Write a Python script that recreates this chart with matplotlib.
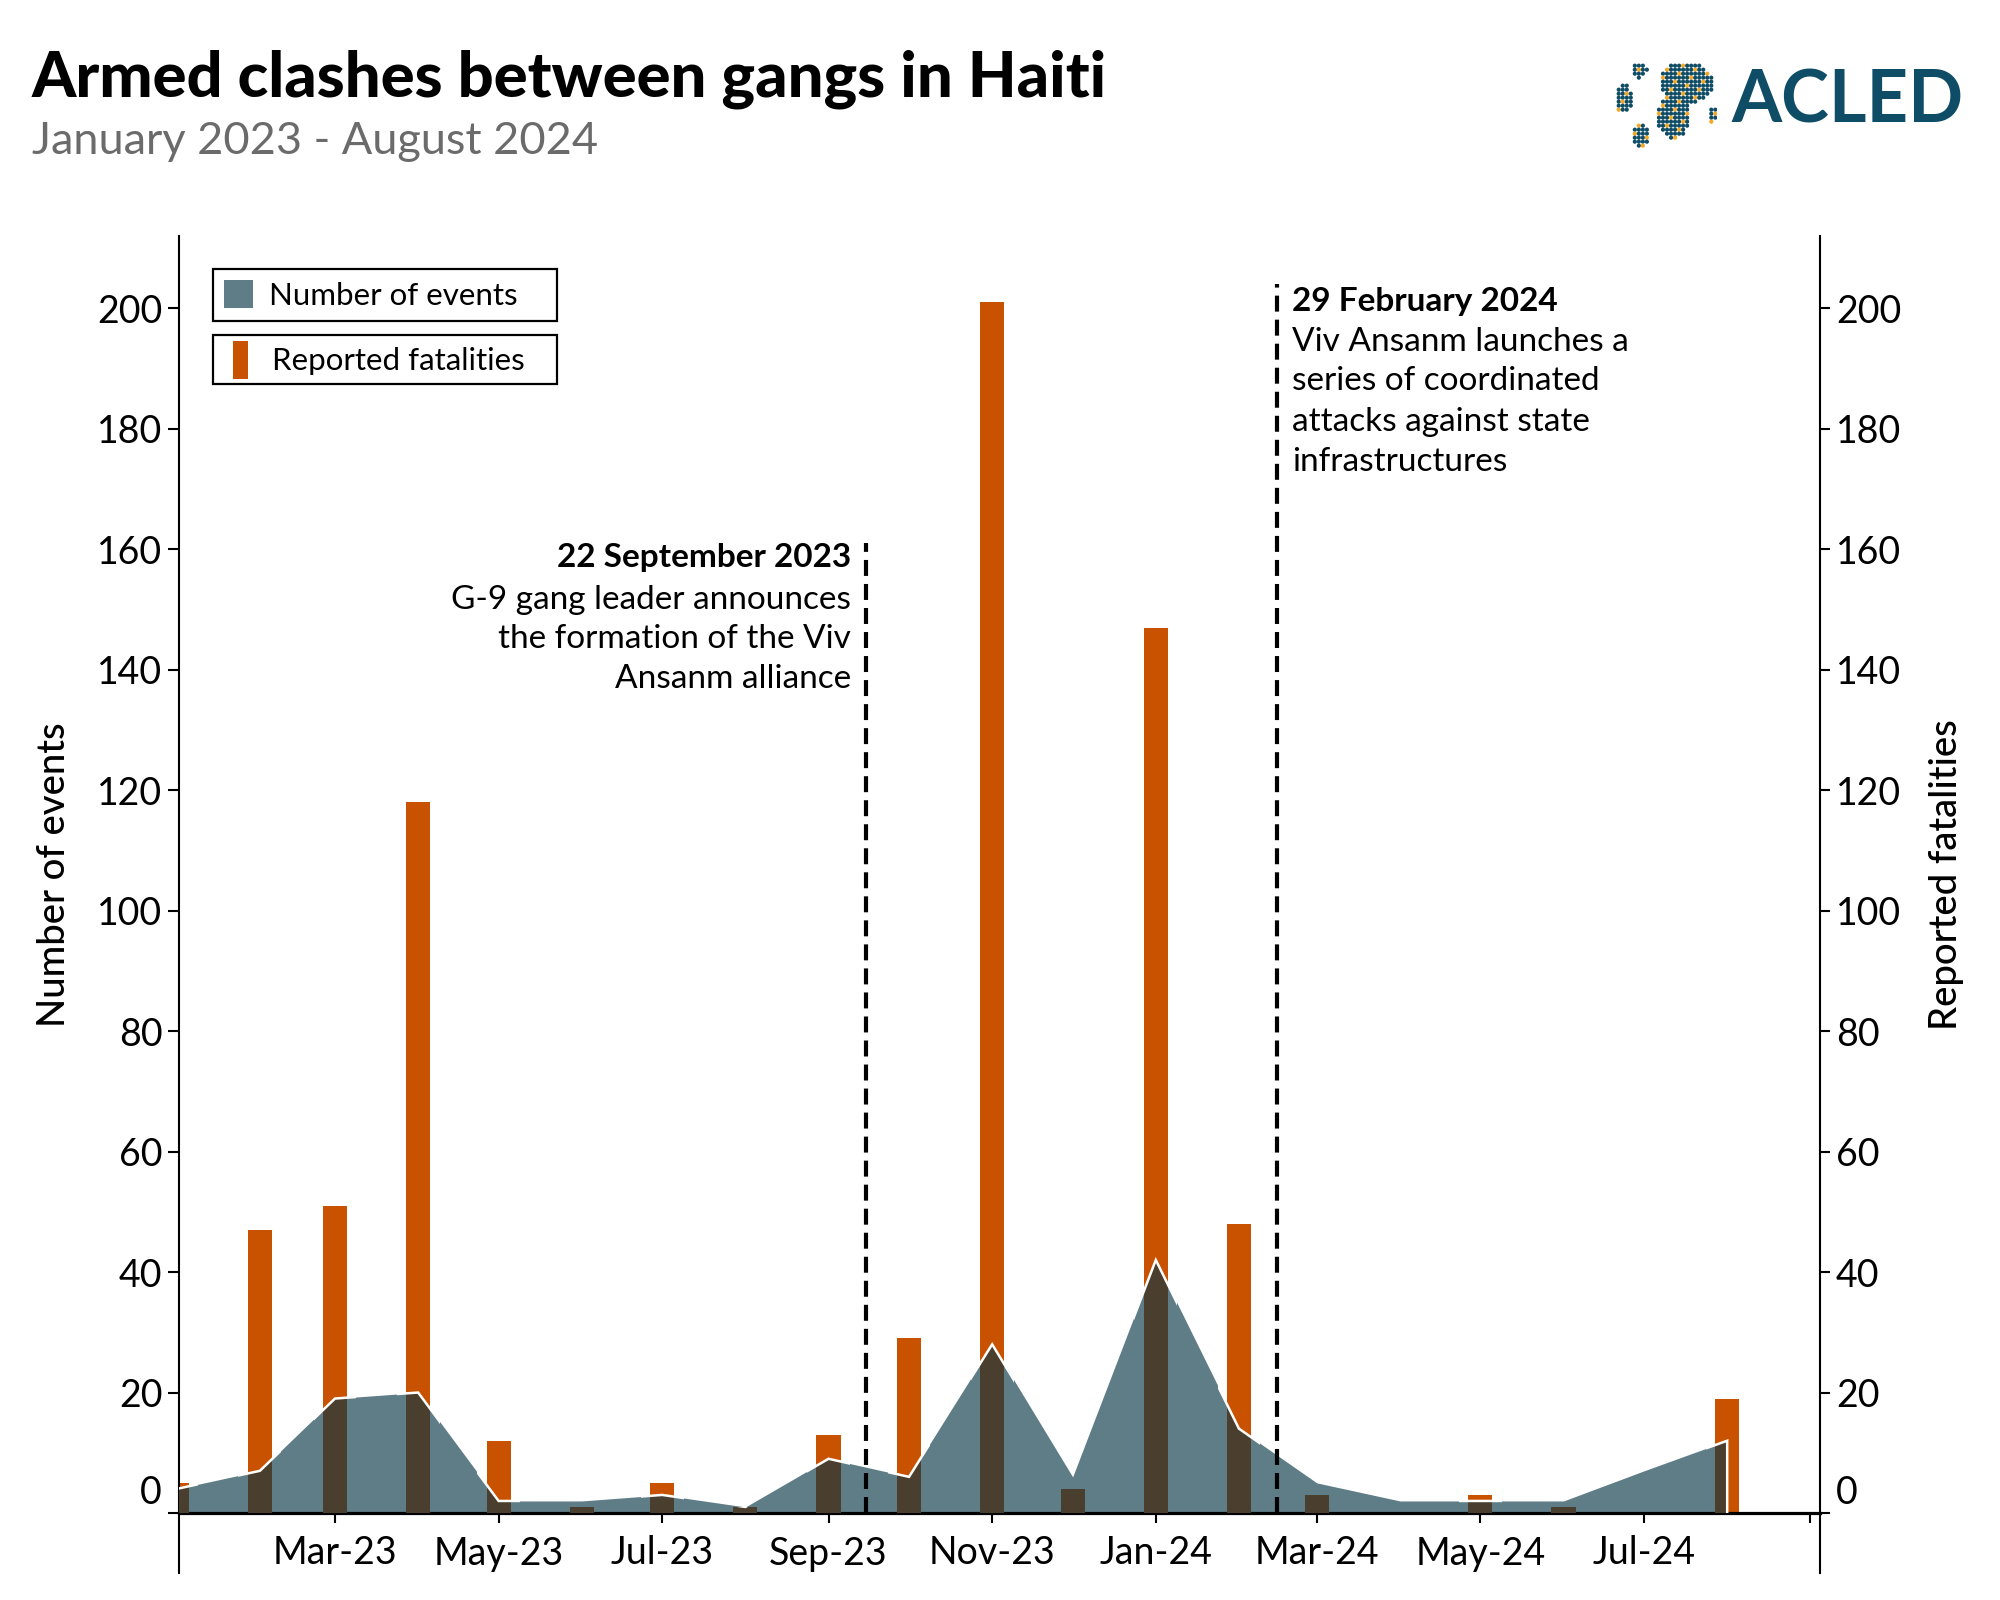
import matplotlib
matplotlib.use("Agg")
import matplotlib.pyplot as plt
import matplotlib.dates as mdates
from matplotlib.patches import Patch, Rectangle
from matplotlib.path import Path
from matplotlib.legend_handler import HandlerPatch
import numpy as np
import pandas as pd

# ---------------- data ----------------
months = pd.date_range("2023-01-01", "2024-08-01", freq="MS")
events = [4, 7, 19, 20, 2, 2, 3, 1, 9, 6, 28, 6, 42, 14, 5, 2, 2, 2, 7, 12]
fatalities = [5, 47, 51, 118, 12, 1, 5, 1, 13, 29, 201, 4, 147, 48, 3, 0, 3, 1, 0, 19]
tick_dates = pd.date_range("2023-03-01", "2024-09-01", freq="2MS")
tick_labels = ["Mar-23", "May-23", "Jul-23", "Sep-23", "Nov-23", "Jan-24",
               "Mar-24", "May-24", "Jul-24", ""]
y_ticks = list(range(0, 201, 20))
event_dates = ["2023-09-15", "2024-02-15"]
event_line_tops = [161, 204]

# ---------------- style ----------------
FONT = ["Lato", "DejaVu Sans"]
plt.rcParams["font.family"] = FONT
plt.rcParams["lines.scale_dashes"] = False
ORANGE = "#c85200"
AREA = "#5f7d87"
DARK = "#4a3f2e"
TICK_FS = 27

W, H = 2000, 1600
fig = plt.figure(figsize=(20, 16), dpi=100)

def fx(px):
    return px / W

def fy(py):
    return 1 - py / H

ax_left, ax_right, ax_top, ax_bot = 179, 1820, 236, 1513
ax = fig.add_axes([fx(ax_left), fy(ax_bot), (ax_right - ax_left) / W, (ax_bot - ax_top) / H])

x = mdates.date2num(months)
bw = 9  # days

# orange bars
ax.bar(x, fatalities, width=bw, color=ORANGE, zorder=1, linewidth=0)
# area
xa = np.append(x, x[-1])
ya = np.append(np.array(events, float), 0.0)
area = ax.fill_between(x, events, 0, color=AREA, linewidth=0, zorder=2)
area_path = area.get_paths()[0]
# dark overlap (bars clipped to the area)
dark = ax.bar(x, fatalities, width=bw, color=DARK, zorder=3, linewidth=0)
for r in dark:
    r.set_clip_path(area_path, ax.transData)
# white outline where it meets the bars
pad = 3.5
rects = []
for xi, fi in zip(x, fatalities):
    if fi > 0:
        x0, x1 = xi - bw / 2 - pad, xi + bw / 2 + pad
        rects.append(Path([(x0, 0), (x1, 0), (x1, fi), (x0, fi), (x0, 0)],
                          [Path.MOVETO, Path.LINETO, Path.LINETO, Path.LINETO, Path.CLOSEPOLY]))
clip = Path.make_compound_path(*rects)
wl, = ax.plot(xa, ya, color="white", lw=1.8, zorder=4, solid_joinstyle="miter")
wl.set_clip_path(clip, ax.transData)

# dashed event lines
for d, top in zip(event_dates, event_line_tops):
    xd = mdates.date2num(pd.Timestamp(d))
    ax.plot([xd, xd], [0, top], color="black", lw=3.0, dashes=(11.5, 5.8), zorder=6)

# axes limits / ticks
x_left = mdates.date2num(pd.Timestamp("2023-01-01")) + 0.86
x_right = mdates.date2num(pd.Timestamp("2024-09-04")) + 0.6
ax.set_xlim(x_left, x_right)
ax.set_ylim(0, 212)
ax.set_xticks(mdates.date2num(tick_dates))
ax.set_xticklabels(tick_labels)
ax.set_yticks(y_ticks)
ax.set_yticklabels([""] + [str(v) for v in y_ticks[1:]])
ax.tick_params(axis="x", length=7.2, width=1.5, pad=9, labelsize=TICK_FS, direction="out")
ax.tick_params(axis="y", length=8, width=1.5, pad=4, labelsize=TICK_FS, direction="out")
for s in ["top", "right"]:
    ax.spines[s].set_visible(False)
ax.spines["left"].set_linewidth(1.5)
ax.spines["bottom"].set_linewidth(2.3)
ax.set_ylabel("Number of events", fontsize=27.5, labelpad=18, fontweight="medium")

ax2 = ax.twinx()
ax2.set_ylim(0, 212)
ax2.set_yticks(y_ticks)
ax2.set_yticklabels([""] + [str(v) for v in y_ticks[1:]])
ax2.tick_params(axis="y", length=7.5, width=1.5, pad=4, labelsize=TICK_FS, direction="out")
for s in ["top", "left", "bottom"]:
    ax2.spines[s].set_visible(False)
ax2.spines["right"].set_linewidth(1.5)
ax2.set_ylabel("Reported fatalities", fontsize=27.5, labelpad=20, fontweight="medium")

# raised zero labels
ax.annotate("0", xy=(0, 0), xycoords=("axes fraction", "data"), xytext=(-12.2, 14.4),
            textcoords="offset points", ha="right", va="center", fontsize=TICK_FS)
ax.annotate("0", xy=(1, 0), xycoords=("axes fraction", "data"), xytext=(11.2, 14.4),
            textcoords="offset points", ha="left", va="center", fontsize=TICK_FS)

# spine extensions below the x axis
ext = 60 / (ax_bot - ax_top)
for xe in (0, 1):
    ax.plot([xe, xe], [0, -ext], transform=ax.transAxes, clip_on=False, color="black", lw=1.5)

# legends
class NarrowHandler(HandlerPatch):
    def create_artists(self, legend, orig_handle, xdescent, ydescent, width, height, fontsize, trans):
        w = 15 * 0.72
        p = Rectangle((-xdescent + width / 2 - w / 2, -ydescent), w, height,
                      facecolor=orig_handle.get_facecolor(), edgecolor="none", transform=trans)
        return [p]

LEG_FS = 22.5
leg1 = ax.legend(handles=[Patch(facecolor=AREA, edgecolor="none", label="Number of events")],
                 loc="upper left", bbox_to_anchor=(fx(213), fy(319), 344 / W, 50 / H),
                 bbox_transform=fig.transFigure, mode="expand", borderaxespad=0,
                 fontsize=LEG_FS, handlelength=0.93, handleheight=1.0, handletextpad=0.5,
                 borderpad=0.36, fancybox=False, framealpha=1, edgecolor="black")
leg1.get_frame().set_linewidth(1.6)
ax.add_artist(leg1)
leg2 = ax.legend(handles=[Patch(facecolor=ORANGE, edgecolor="none", label="Reported fatalities")],
                 loc="upper left", bbox_to_anchor=(fx(213), fy(385), 344 / W, 50 / H),
                 bbox_transform=fig.transFigure, mode="expand", borderaxespad=0,
                 fontsize=LEG_FS, handlelength=1.4, handleheight=1.5, handletextpad=0.3,
                 borderpad=0.18, fancybox=False, framealpha=1, edgecolor="black",
                 handler_map={Patch: NarrowHandler()})
leg2.get_frame().set_linewidth(1.6)

# annotations
ANN_FS = 24
ann1 = [("22 September 2023", "bold", 557), ("G-9 gang leader announces", "normal", 600),
        ("the formation of the Viv", "normal", 639), ("Ansanm alliance", "normal", 679)]
for t, wgt, yy in ann1:
    fig.text(fx(851), fy(yy), t, ha="right", va="center", fontsize=ANN_FS, fontweight=wgt)
ann2 = [("29 February 2024", "bold", 301), ("Viv Ansanm launches a", "normal", 342),
        ("series of coordinated", "normal", 381), ("attacks against state", "normal", 422),
        ("infrastructures", "normal", 462)]
for t, wgt, yy in ann2:
    fig.text(fx(1292), fy(yy), t, ha="left", va="center", fontsize=ANN_FS, fontweight=wgt)

# title
fig.text(fx(32), fy(79), "Armed clashes between gangs in Haiti", ha="left", va="center",
         fontsize=45.5, fontweight="black")
fig.text(fx(32), fy(142), "January 2023 - August 2024", ha="left", va="center",
         fontsize=32.5, color="#6b6b6b")

# logo
fig.text(fx(1731), fy(102), "ACLED", ha="left", va="center", fontsize=52,
         fontweight="bold", color="#0f4c66")
lax = fig.add_axes([fx(1613), fy(150), 104 / W, 90 / H])
lax.set_xlim(100, 410)
lax.set_ylim(330, 60)
lax.axis("off")
blobs = [((178, 90), 25, 24), ((132, 175), 26, 42), ((182, 290), 24, 38),
         ((318, 128), 80, 62), ((280, 230), 48, 66), ((398, 225), 9, 28)]
gx = np.arange(105, 410, 12)
gy = np.arange(65, 330, 12)
px, py, pc = [], [], []
for i, xx in enumerate(gx):
    for j, yy in enumerate(gy):
        inside = any(((xx - c[0]) / rx) ** 2 + ((yy - c[1]) / ry) ** 2 <= 1 for c, rx, ry in blobs)
        if inside:
            px.append(xx)
            py.append(yy)
            pc.append("#f5a623" if (i * 3 + j * 5) % 7 == 0 else "#0f4c66")
lax.scatter(px, py, s=9, c=pc, linewidths=0)

fig.savefig("out.png", dpi=100)
